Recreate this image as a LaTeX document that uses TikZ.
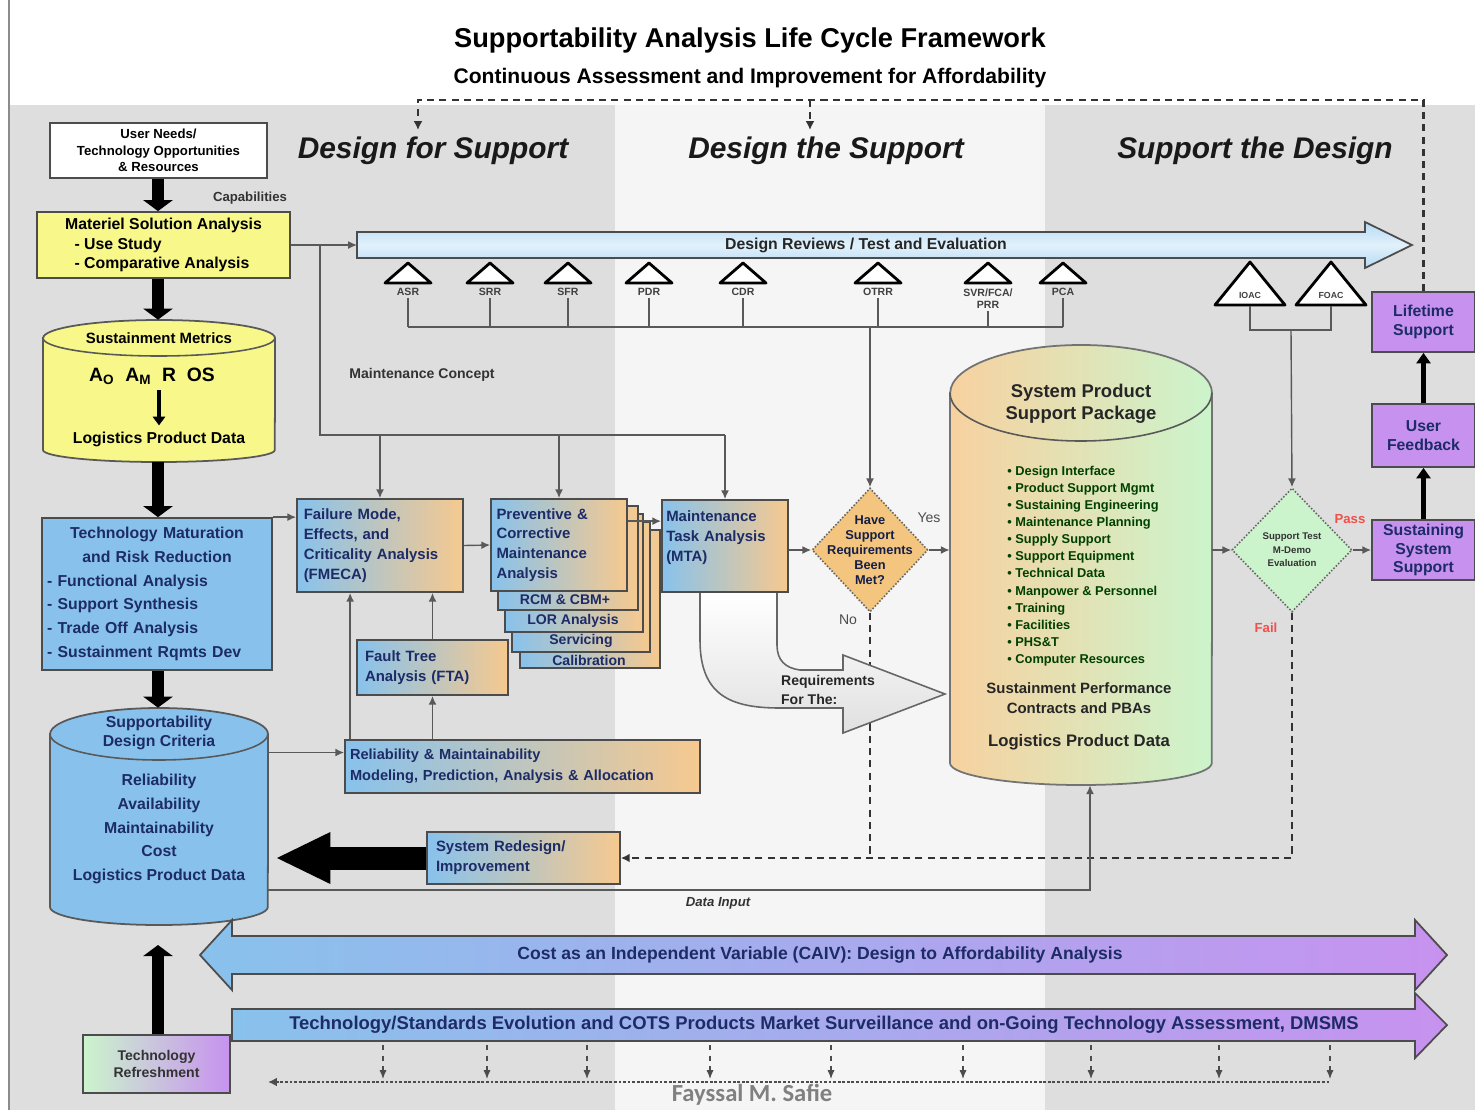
\documentclass[tikz,border=0pt]{standalone}
\usepackage{fontspec}
\setmainfont{Liberation Sans}
\newfontfamily\sigfont{Carlito}
\usepackage{tikz}
\usetikzlibrary{calc,shapes,arrows.meta}
\definecolor{bgside}{HTML}{DEDEDE}
\definecolor{bgmid}{HTML}{F5F5F5}
\definecolor{yel}{HTML}{F8F78A}
\definecolor{sky}{HTML}{88C2EC}
\definecolor{peach}{HTML}{F6C98F}
\definecolor{lilac}{HTML}{C792EF}
\definecolor{mint}{HTML}{CCF4CC}
\definecolor{navy}{HTML}{1D2B66}
\definecolor{dia}{HTML}{F3C57E}
\definecolor{passred}{HTML}{F0504A}
\definecolor{revblue}{HTML}{B5DBF5}
\newcommand{\pxl}{0.02cm}
\newcommand{\drum}[7]{%
  \pgfmathsetmacro{\drumrx}{(#3-#2)*0.01}%
  \pgfmathsetmacro{\drumtop}{#6*0.02}%
  \pgfmathsetmacro{\drumbot}{#7*0.02}%
  \path[#1] (#2,#4+#6) -- (#2,#5-#7) arc[start angle=180,end angle=360,x radius=\drumrx cm,y radius=\drumbot cm] -- (#3,#4+#6) arc[start angle=0,end angle=180,x radius=\drumrx cm,y radius=\drumtop cm] -- cycle;
  \draw[black!65,line width=0.9pt] (#2,#4+#6) arc[start angle=180,end angle=360,x radius=\drumrx cm,y radius=\drumtop cm];
}

\begin{document}
\begin{tikzpicture}[x=0.02cm,y=-0.02cm,
    box/.style={draw=black!70,line width=1pt,inner sep=1pt,font=\bfseries\fontsize{8.5}{10.5}\selectfont},
    bluebox/.style={box,fill=sky,text=navy},
    mixbox/.style={box,left color=sky,right color=peach,text=navy},
    lilacbox/.style={box,fill=lilac,text=navy,align=center,font=\bfseries\fontsize{9}{11}\selectfont},
    colhead/.style={font=\bfseries\itshape\fontsize{17}{20}\selectfont,text=black!90},
    mlabel/.style={font=\bfseries\fontsize{6}{7}\selectfont,text=black!75,inner sep=1pt},
    mtri/.style={draw=black,line width=1.6pt,fill=white,line join=round},
    wire/.style={draw=black!65,line width=0.8pt},
    conn/.style={wire,-{Latex[length=5pt,width=4.5pt]}},
    fat/.style={draw=black,line width=0.26cm,-{Triangle[length=0.22cm,width=0.58cm]}},
    loopline/.style={draw=black!80,line width=1.3pt,dash pattern=on 4pt off 3pt}]

    \useasboundingbox (0,0) rectangle (1475,1110);
    \fill[white] (0,0) rectangle (1475,1110);
    \fill[bgside] (10,105) rectangle (615,1110);
    \fill[bgmid] (615,105) rectangle (1045,1110);
    \fill[bgside] (1045,105) rectangle (1475,1110);
    \draw[black!45,line width=1pt] (9,1110) -- (9,0);

    \node [font=\bfseries\fontsize{15.5}{18}\selectfont] (title) at (750,40) {Supportability Analysis Life Cycle Framework};
    \node [font=\bfseries\fontsize{12}{14}\selectfont] (subtitle) at (750,78) {Continuous Assessment and Improvement for Affordability};
    \node [colhead] (dfs) at (433,151) {Design for Support};
    \node [colhead] (dts) at (826,151) {Design the Support};
    \node [colhead] (std) at (1255,151) {Support the Design};

    \node [box,fill=white,align=center,font=\bfseries\fontsize{7.5}{9.5}\selectfont,minimum width=217*\pxl,minimum height=55*\pxl] (needs) at (158.5,150.5) {User Needs/\\Technology Opportunities\\\& Resources};
    \node [font=\bfseries\fontsize{7.5}{9}\selectfont,text=black!80] (capab) at (250,198) {Capabilities};
    \node [box,fill=yel,align=left,font=\bfseries\fontsize{9}{11.3}\selectfont,minimum width=253*\pxl,minimum height=66*\pxl] (msa) at (163.5,245) {Materiel Solution Analysis\\\hspace*{0.6em}- Use Study\\\hspace*{0.6em}- Comparative Analysis};

    \drum{fill=yel,draw=black!65,line width=1pt}{43}{275}{320}{462}{18}{12}
    \node [minimum width=232*\pxl,minimum height=142*\pxl] (metrics) at (159,391) {};
    \node [font=\bfseries\fontsize{8.5}{10}\selectfont] (metricstop) at (159,338) {Sustainment Metrics};
    \node [font=\bfseries\fontsize{11}{13}\selectfont] (ao) at (152,376) {A\textsubscript{O}\ \ A\textsubscript{M}\ \ R\ \ OS};
    \node [font=\bfseries\fontsize{9}{11}\selectfont] (lpd) at (159,439) {Logistics Product Data};
    \draw[black,line width=2pt,-{Triangle[length=5pt,width=7pt]}] (ao.south -| lpd.north) -- (lpd.north);

    \node [bluebox,align=left,text width=4.4cm,font=\bfseries\fontsize{9}{13.5}\selectfont,minimum width=230*\pxl,minimum height=152*\pxl] (tmrr) at (157,594) {\makebox[\linewidth]{Technology Maturation}\\\makebox[\linewidth]{and Risk Reduction}\\- Functional Analysis\\- Support Synthesis\\- Trade Off Analysis\\- Sustainment Rqmts Dev};

    \drum{fill=sky,draw=black!65,line width=1pt}{50}{268}{708}{925}{26}{18}
    \node [minimum width=218*\pxl,minimum height=217*\pxl] (sdc) at (159,816.5) {};
    \node [font=\bfseries\fontsize{9}{11}\selectfont,text=navy,align=center] (sdctop) at (159,733) {Supportability\\Design Criteria};
    \node [font=\bfseries\fontsize{9}{13.5}\selectfont,text=navy,align=center] (sdcbody) at (159,829) {Reliability\\Availability\\Maintainability\\Cost\\Logistics Product Data};

    \node [box,left color=mint,middle color=mint,right color=lilac,text=black!80,align=center,font=\bfseries\fontsize{8}{9.5}\selectfont,minimum width=147*\pxl,minimum height=58*\pxl] (refresh) at (156.5,1064) {Technology\\Refreshment};
    \coordinate (spine) at (158,0);
    \coordinate (sdcfoot) at (158,945);

    \draw[fat] (needs.south -| spine) -- (msa.north -| spine);
    \draw[fat] (msa.south -| spine) -- (metrics.north -| spine);
    \draw[fat] (metrics.south -| spine) -- (tmrr.north -| spine);
    \draw[fat] (tmrr.south -| spine) -- (sdc.north -| spine);
    \draw[fat] (refresh.north -| spine) -- (sdcfoot);

    \path[top color=revblue,bottom color=revblue,middle color=white!60!revblue,draw=black!70,line width=1pt] (357,232) -- (1365,232) -- (1365,222) -- (1412,245) -- (1365,268) -- (1365,258) -- (357,258) -- cycle;
    \node [font=\bfseries\fontsize{9}{11}\selectfont,text=black!85] (reviews) at (866,245) {Design Reviews / Test and Evaluation};
    \coordinate (revtail) at (357,245);

    \coordinate (bus) at (408,327);
    \foreach \x/\lab/\nm in {408/ASR/asr,490/SRR/srr,568/SFR/sfr,649/PDR/pdr,743/CDR/cdr,878/OTRR/otrr,1063/PCA/pca}{
        \draw[mtri] (\x-23,283) -- (\x,263) -- (\x+23,283) -- cycle;
        \node [mlabel] (\nm) at (\x,292) {\lab};
        \draw[wire] (\nm.south) -- (\nm.south |- bus);
    }
    \draw[mtri] (965,283) -- (988,263) -- (1011,283) -- cycle;
    \node [mlabel,align=center] (svr) at (988,299) {SVR/FCA/\\PRR};
    \draw[wire] (svr.south) -- (svr.south |- bus);
    \draw[wire] (asr.south |- bus) -- (pca.south |- bus);

    \draw[mtri] (1215,305) -- (1250,262) -- (1285,305) -- cycle;
    \draw[mtri] (1296,305) -- (1331,262) -- (1366,305) -- cycle;
    \node [mlabel,font=\bfseries\fontsize{5}{6}\selectfont] (ioac) at (1250,295) {IOAC};
    \node [mlabel,font=\bfseries\fontsize{5}{6}\selectfont] (foac) at (1331,295) {FOAC};
    \coordinate (iocbase) at (1250,306);
    \coordinate (focbase) at (1331,306);
    \coordinate (evalbus) at (1291,330);
    \draw[wire] (iocbase) -- (iocbase |- evalbus) -- (focbase |- evalbus) -- (focbase);

    \node [lilacbox,minimum width=103*\pxl,minimum height=60*\pxl] (ls) at (1423.5,322) {Lifetime\\Support};
    \node [lilacbox,minimum width=103*\pxl,minimum height=63*\pxl] (uf) at (1423.5,435.5) {User\\Feedback};
    \node [lilacbox,minimum width=103*\pxl,minimum height=60*\pxl,font=\bfseries\fontsize{9}{10.5}\selectfont] (sss) at (1423.5,550) {Sustaining\\System\\Support};

    \coordinate (loopa) at (418,100);
    \coordinate (loopb) at (810,100);
    \coordinate (loopc) at (1423.5,100);
    \coordinate (dfsin) at (418,130);
    \coordinate (dtsin) at (810,130);
    \draw[loopline,-{Latex[length=5pt,width=5pt]}] (ls.north) -- (loopc) -- (loopa) -- (dfsin);
    \draw[loopline,-{Latex[length=5pt,width=5pt]}] (loopb) -- (dtsin);

    \node [mixbox,align=left,text width=3.05cm,font=\bfseries\fontsize{8.5}{11.3}\selectfont,minimum width=166*\pxl,minimum height=93*\pxl] (fmeca) at (380,545.5) {Failure Mode,\\Effects, and\\Criticality Analysis\\(FMECA)};

    \node [mixbox,minimum width=140*\pxl,minimum height=138*\pxl] (calib) at (590,599) {};
    \node [mixbox,minimum width=138*\pxl,minimum height=130*\pxl] (servic) at (581,587) {};
    \node [mixbox,minimum width=138*\pxl,minimum height=118*\pxl] (lora) at (574,573) {};
    \node [mixbox,minimum width=140*\pxl,minimum height=104*\pxl] (rcm) at (568,558) {};
    \node [mixbox,align=left,text width=2.5cm,font=\bfseries\fontsize{8.5}{11.3}\selectfont,minimum width=136*\pxl,minimum height=92*\pxl] (prev) at (559,545) {Preventive \&\\Corrective\\Maintenance\\Analysis};
    \node [font=\bfseries\fontsize{8}{9}\selectfont,text=navy,inner sep=0pt] (rcmlab) at (565,600) {RCM \& CBM+};
    \node [font=\bfseries\fontsize{8}{9}\selectfont,text=navy,inner sep=0pt] (loralab) at (573,621) {LOR Analysis};
    \node [font=\bfseries\fontsize{8}{9}\selectfont,text=navy,inner sep=0pt] (servlab) at (581,641) {Servicing};
    \node [font=\bfseries\fontsize{8}{9}\selectfont,text=navy,inner sep=0pt] (callab) at (589,660) {Calibration};

    \node [mixbox,align=left,text width=2.35cm,font=\bfseries\fontsize{8.5}{11.3}\selectfont,minimum width=126*\pxl,minimum height=92*\pxl] (mta) at (725,546) {Maintenance\\Task Analysis\\(MTA)\\\mbox{}};

    \node [mixbox,align=left,text width=2.7cm,font=\bfseries\fontsize{8.5}{11.3}\selectfont,minimum width=151*\pxl,minimum height=55*\pxl] (fta) at (432.5,667.5) {Fault Tree\\Analysis (FTA)};
    \node [box,left color=sky,middle color=peach!85!sky,right color=peach,text=navy,align=left,text width=6.9cm,font=\bfseries\fontsize{8.3}{11.9}\selectfont,minimum width=355*\pxl,minimum height=53*\pxl] (rm) at (522.5,766.5) {Reliability \& Maintainability\\Modeling, Prediction, Analysis \& Allocation};
    \node [mixbox,align=left,text width=3.5cm,font=\bfseries\fontsize{8.5}{11.3}\selectfont,minimum width=193*\pxl,minimum height=52*\pxl] (redesign) at (523.5,858) {System Redesign/\\Improvement};

    \node [diamond,fill=dia,draw=black!60,densely dotted,line width=0.9pt,inner sep=0pt,minimum width=116*\pxl,minimum height=124*\pxl] (met) at (870,550) {};
    \node [font=\bfseries\fontsize{7.3}{8.5}\selectfont,text=navy!70!black,align=center] (mettext) at (met) {Have\\Support\\Requirements\\Been\\Met?};
    \node [font=\fontsize{8}{9}\selectfont,text=black!70] (yes) at (929,518) {Yes};
    \node [font=\fontsize{8}{9}\selectfont,text=black!70] (no) at (848,620) {No};

    \drum{left color=peach!85!white,right color=mint,draw=black!55,line width=1pt}{950}{1212}{345}{785}{48}{22}
    \node [minimum width=262*\pxl,minimum height=440*\pxl] (spsp) at (1081,565) {};
    \node [font=\bfseries\fontsize{10.5}{12.5}\selectfont,text=black!85,align=center] (spsptop) at (1081,404) {System Product\\Support Package};
    \node [font=\bfseries\fontsize{7.3}{9.75}\selectfont,text=green!25!black,align=left] (spsplist) at (1083,566) {• Design Interface\\• Product Support Mgmt\\• Sustaining Engineering\\• Maintenance Planning\\• Supply Support\\• Support Equipment\\• Technical Data\\• Manpower \& Personnel\\• Training\\• Facilities\\• PHS\&T\\• Computer Resources};
    \node [font=\bfseries\fontsize{8.5}{11.3}\selectfont,text=black!85,align=center] (spc) at (1079,698) {Sustainment Performance\\Contracts and PBAs};
    \node [font=\bfseries\fontsize{9.5}{11}\selectfont,text=black!85] (spsplpd) at (1079,742) {Logistics Product Data};

    \node [diamond,fill=mint,draw=black!60,densely dotted,line width=0.9pt,inner sep=0pt,minimum width=120*\pxl,minimum height=124*\pxl] (eval) at (1292,550) {};
    \node [font=\bfseries\fontsize{5.5}{7.6}\selectfont,text=black!80,align=center] (evaltext) at (eval) {Support Test\\M-Demo\\Evaluation};
    \node [font=\bfseries\fontsize{7.5}{9}\selectfont,text=passred] (pass) at (1350,519) {Pass};
    \node [font=\bfseries\fontsize{7.5}{9}\selectfont,text=passred] (fail) at (1266,628) {Fail};

    \draw[conn] (msa.east) -- (revtail);
    \coordinate (mcsplit) at (320,245);
    \coordinate (mcbend) at (320,435);
    \draw[wire] (mcsplit) -- (mcbend) -- (mcbend -| mta.north);
    \draw[conn] (mcbend -| fmeca.north) -- (fmeca.north);
    \draw[conn] (mcbend -| prev.north) -- (prev.north);
    \draw[conn] (mcbend -| mta.north) -- (mta.north);
    \node [font=\bfseries\fontsize{8}{9}\selectfont,text=black!80] (mconcept) at (422,375) {Maintenance Concept};

    \draw[conn] (tmrr.north east) -- (tmrr.north east -| fmeca.west);
    \draw[conn] (fmeca.east) -- (prev.west);
    \coordinate (prevout) at ($(prev.north east)+(0,23)$);
    \draw[conn] (prevout) -- (prevout -| mta.west);
    \draw[conn] (mta.east |- met.west) -- (met.west);
    \draw[conn] (met.east) -- (met.east -| spsp.west);
    \draw[conn] (met.north |- bus) -- (met.north);
    \draw[conn] (spsp.east |- eval.west) -- (eval.west);
    \draw[conn] (eval.east) -- (sss.west);
    \draw[conn] (evalbus) -- (eval.north);
    \draw[black,line width=2.4pt,-{Triangle[length=6pt,width=8pt]}] (sss.north) -- (uf.south);
    \draw[black,line width=2.4pt,-{Triangle[length=6pt,width=8pt]}] (uf.north) -- (ls.south);

    \coordinate (rmin) at ($(rm.west)+(0,-14)$);
    \draw[conn] (rmin -| sdc.east) -- (rmin);
    \coordinate (rmleft) at ($(rm.north west)+(6,0)$);
    \draw[conn] (rmleft) -- (rmleft |- fmeca.south);
    \draw[conn] (rm.north -| fta.south) -- (fta.south);
    \draw[conn] (fta.north) -- (fta.north |- fmeca.south);

    \draw[loopline] (met.south) -- (met.south |- redesign.east);
    \draw[loopline,-{Latex[length=5pt,width=5pt]}] (eval.south) -- (eval.south |- redesign.east) -- (redesign.east);

    \path[top color=white,bottom color=black!12,draw=black!60,line width=0.9pt] (700,593) -- (700,640) .. controls (700,695) and (730,708) .. (780,708) -- (843,708) -- (843,733) -- (945,694) -- (843,655) -- (843,670) -- (800,670) .. controls (785,668) and (777,660) .. (777,645) -- (777,593);
    \node [font=\bfseries\fontsize{8}{10.5}\selectfont,text=black!85,align=left] (reqfor) at (828,690) {Requirements\\For The:};

    \draw[draw=black,line width=0.46cm,-{Triangle[length=1.1cm,width=0.95cm]},shorten >=0.14cm] (redesign.west) -- (redesign.west -| sdc.east);

    \coordinate (datain) at (1090,890);
    \draw[conn] (datain -| sdc.east) -- (datain) -- (datain |- spsp.south);
    \node [font=\bfseries\itshape\fontsize{7.5}{9}\selectfont,text=black!80] (datalabel) at (718,903) {Data Input};

    \path[left color=sky,right color=lilac,draw=black!70,line width=1pt] (200,955) -- (232,920) -- (232,936) -- (1415,936) -- (1415,920) -- (1447,955) -- (1415,990) -- (1415,974) -- (232,974) -- (232,990) -- cycle;
    \node [font=\bfseries\fontsize{10}{12}\selectfont,text=navy] (caiv) at (820,955) {Cost as an Independent Variable (CAIV): Design to Affordability Analysis};
    \path[left color=sky,right color=lilac,draw=black!70,line width=1pt] (232,1009) -- (1415,1009) -- (1415,993) -- (1447,1025) -- (1415,1058) -- (1415,1041) -- (232,1041) -- cycle;
    \node [font=\bfseries\fontsize{10.5}{12}\selectfont,text=navy] (techev) at (824,1025) {Technology/Standards Evolution and COTS Products Market Surveillance and on-Going Technology Assessment, DMSMS};

    \coordinate (tl) at (268,1082);
    \coordinate (tr) at (1330,1082);
    \draw[black!70,line width=1.6pt,densely dotted,{Latex[length=5pt,width=5pt]}-] (tl) -- (tr);
    \foreach \x in {383,487,587,710,831,963,1091,1219,1330}
        \draw[black!70,line width=0.7pt,dashed,-{Latex[length=5pt,width=4pt]}] (\x,1045) -- (\x,1079);

    \node [font=\sigfont\bfseries\fontsize{14}{16}\selectfont,text=black!50,anchor=base] (sig) at (752,1101) {Fayssal M. Safie};
\end{tikzpicture}
\end{document}
